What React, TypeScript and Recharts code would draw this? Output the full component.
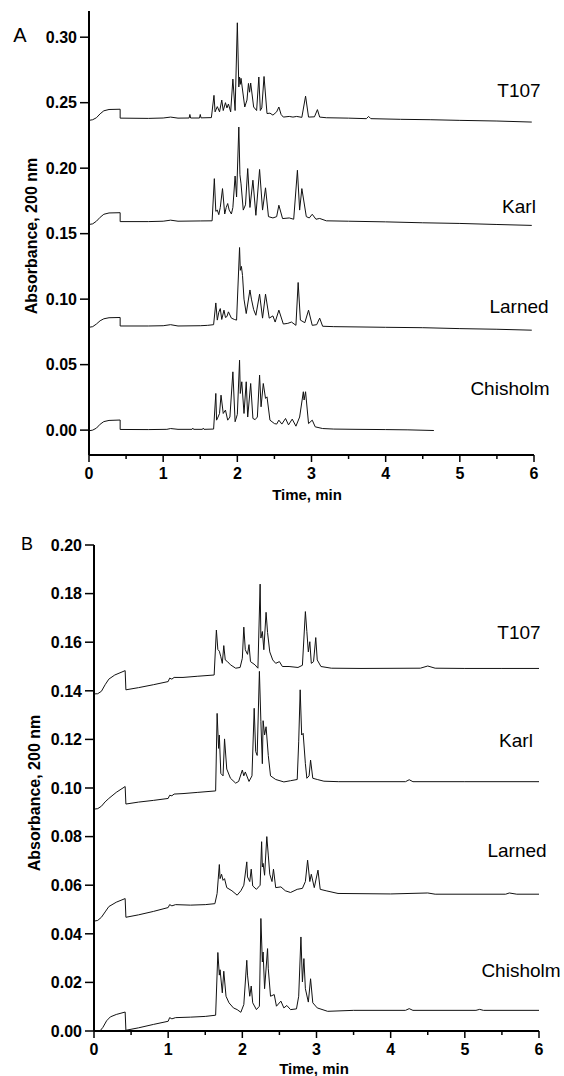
import React from 'react';
import { LineChart, Line, XAxis, YAxis } from 'recharts';

// Time (min) / absorbance pairs
const panelA_T107: [number, number][] = [
  [0, 0.2365], [0.05, 0.237], [0.1, 0.2385], [0.15, 0.2415], [0.2, 0.2438], [0.27, 0.2448], [0.42, 0.245], [0.42, 0.2382],
  [0.8, 0.238], [1.0, 0.2383], [1.1, 0.239], [1.2, 0.2382], [1.35, 0.2383], [1.36, 0.241], [1.37, 0.2383], [1.49, 0.2383],
  [1.5, 0.241], [1.51, 0.2384], [1.65, 0.2386], [1.685, 0.2556], [1.7, 0.243], [1.73, 0.247], [1.76, 0.243], [1.79, 0.252],
  [1.81, 0.244], [1.84, 0.25], [1.86, 0.246], [1.88, 0.249], [1.91, 0.243], [1.94, 0.268], [1.97, 0.244], [2.0, 0.311],
  [2.02, 0.262], [2.03, 0.2696], [2.04, 0.264], [2.05, 0.2686], [2.1, 0.2467], [2.13, 0.252], [2.15, 0.2647], [2.165, 0.258],
  [2.18, 0.265], [2.22, 0.2467], [2.26, 0.244], [2.29, 0.2696], [2.31, 0.244], [2.33, 0.246], [2.36, 0.27], [2.4, 0.2417],
  [2.44, 0.242], [2.48, 0.2405], [2.53, 0.243], [2.56, 0.2467], [2.59, 0.241], [2.62, 0.239], [2.7, 0.2395], [2.75, 0.239],
  [2.8, 0.2395], [2.87, 0.2388], [2.92, 0.255], [2.96, 0.239], [3.04, 0.2392], [3.08, 0.2447], [3.11, 0.239], [3.2, 0.2385],
  [3.5, 0.2382], [3.74, 0.2378], [3.77, 0.2395], [3.8, 0.2378], [4.2, 0.2373], [4.6, 0.237], [5.0, 0.2365], [5.5, 0.236], [5.97, 0.2352],
];
const panelA_Karl: [number, number][] = [
  [0, 0.157], [0.05, 0.1575], [0.1, 0.1595], [0.15, 0.1625], [0.2, 0.1648], [0.27, 0.1658], [0.42, 0.166], [0.42, 0.1592],
  [0.8, 0.1592], [1.0, 0.1595], [1.1, 0.1603], [1.2, 0.1595], [1.5, 0.1597], [1.66, 0.1598], [1.69, 0.192], [1.71, 0.167],
  [1.73, 0.168], [1.75, 0.1645], [1.77, 0.17], [1.8, 0.1844], [1.83, 0.165], [1.85, 0.17], [1.87, 0.173], [1.89, 0.168],
  [1.92, 0.165], [1.94, 0.17], [1.97, 0.194], [1.99, 0.178], [2.02, 0.2314], [2.035, 0.195], [2.05, 0.188], [2.08, 0.168],
  [2.11, 0.172], [2.14, 0.1997], [2.17, 0.17], [2.21, 0.1908], [2.25, 0.164], [2.3, 0.199], [2.34, 0.168], [2.38, 0.185],
  [2.42, 0.163], [2.48, 0.162], [2.53, 0.163], [2.56, 0.1717], [2.61, 0.1615], [2.7, 0.162], [2.76, 0.161], [2.81, 0.1984],
  [2.84, 0.168], [2.87, 0.1844], [2.93, 0.163], [2.97, 0.162], [3.01, 0.1648], [3.06, 0.161], [3.11, 0.1616], [3.2, 0.1598],
  [3.5, 0.1595], [4.0, 0.159], [4.5, 0.1583], [5.0, 0.1578], [5.5, 0.157], [5.97, 0.1563],
];
const panelA_Larned: [number, number][] = [
  [0, 0.0785], [0.05, 0.079], [0.1, 0.081], [0.15, 0.0835], [0.2, 0.085], [0.27, 0.0858], [0.42, 0.086], [0.42, 0.0795],
  [0.8, 0.0795], [1.0, 0.0797], [1.1, 0.0805], [1.2, 0.0795], [1.5, 0.0797], [1.6, 0.08], [1.68, 0.0805], [1.71, 0.0971],
  [1.73, 0.084], [1.75, 0.09], [1.77, 0.0928], [1.79, 0.0845], [1.82, 0.0916], [1.84, 0.086], [1.86, 0.0867], [1.88, 0.0903],
  [1.92, 0.0855], [1.96, 0.0845], [1.99, 0.084], [2.03, 0.1394], [2.04, 0.122], [2.055, 0.125], [2.07, 0.118], [2.09, 0.1],
  [2.12, 0.089], [2.17, 0.107], [2.19, 0.1], [2.22, 0.092], [2.25, 0.0877], [2.3, 0.1038], [2.34, 0.0855], [2.38, 0.1038],
  [2.43, 0.0855], [2.48, 0.0872], [2.51, 0.0825], [2.56, 0.0916], [2.62, 0.081], [2.68, 0.0815], [2.73, 0.0825], [2.79, 0.08],
  [2.82, 0.1127], [2.85, 0.084], [2.91, 0.082], [2.96, 0.0916], [3.01, 0.08], [3.07, 0.0805], [3.11, 0.0855], [3.15, 0.0793],
  [3.3, 0.079], [3.6, 0.0788], [4.0, 0.0785], [4.5, 0.0782], [5.0, 0.0775], [5.5, 0.077], [5.97, 0.0763],
];
const panelA_Chisholm: [number, number][] = [
  [0, -0.0005], [0.05, 0], [0.1, 0.0015], [0.15, 0.0045], [0.2, 0.0065], [0.27, 0.0074], [0.42, 0.0077], [0.42, 0.0005],
  [0.8, 0.0004], [1.05, 0.0006], [1.1, 0.0012], [1.2, 0.0006], [1.39, 0.0006], [1.4, 0.0015], [1.41, 0.0006], [1.53, 0.0006],
  [1.54, 0.0015], [1.55, 0.0006], [1.68, 0.0008], [1.71, 0.028], [1.72, 0.0076], [1.74, 0.01], [1.76, 0.0127], [1.78, 0.0267],
  [1.81, 0.0127], [1.84, 0.0153], [1.87, 0.0076], [1.9, 0.01], [1.94, 0.0445], [1.97, 0.0064], [2.0, 0.012], [2.03, 0.0534],
  [2.04, 0.028], [2.06, 0.0369], [2.09, 0.0127], [2.12, 0.0369], [2.14, 0.01], [2.18, 0.0356], [2.21, 0.0089], [2.24, 0.008],
  [2.27, 0.01], [2.3, 0.042], [2.32, 0.0178], [2.35, 0.0356], [2.38, 0.0242], [2.4, 0.0254], [2.44, 0.0076], [2.5, 0.005],
  [2.53, 0.0046], [2.56, 0.0076], [2.6, 0.0046], [2.65, 0.0089], [2.69, 0.004], [2.74, 0.0084], [2.79, 0.003], [2.84, 0.01],
  [2.89, 0.0293], [2.9, 0.023], [2.92, 0.0293], [2.96, 0.005], [3.01, 0.0076], [3.05, 0.0025], [3.15, 0.0012], [3.3, 0.0008],
  [3.6, 0.0006], [4.0, 0.0004], [4.3, 0.0002], [4.65, -0.0003],
];

const panelB_T107: [number, number][] = [
  [0, 0.1387], [0.05, 0.1388], [0.1, 0.1398], [0.15, 0.1425], [0.2, 0.1448], [0.28, 0.1465], [0.42, 0.1483], [0.43, 0.1404],
  [0.6, 0.1413], [0.8, 0.1425], [1.0, 0.1438], [1.02, 0.1452], [1.05, 0.1448], [1.08, 0.1455], [1.2, 0.1455], [1.4, 0.146],
  [1.62, 0.1465], [1.65, 0.165], [1.67, 0.157], [1.69, 0.1563], [1.71, 0.154], [1.73, 0.1513], [1.75, 0.1586], [1.77, 0.1527],
  [1.8, 0.152], [1.84, 0.1507], [1.91, 0.1493], [1.97, 0.1496], [2.0, 0.1534], [2.02, 0.1662], [2.04, 0.1569], [2.07, 0.155],
  [2.09, 0.159], [2.11, 0.152], [2.17, 0.1507], [2.21, 0.1493], [2.24, 0.1839], [2.25, 0.1617], [2.27, 0.1644], [2.29, 0.1569],
  [2.32, 0.1723], [2.34, 0.164], [2.37, 0.156], [2.41, 0.1527], [2.45, 0.1513], [2.5, 0.152], [2.54, 0.15], [2.63, 0.15],
  [2.75, 0.1496], [2.81, 0.1505], [2.85, 0.1726], [2.87, 0.1644], [2.89, 0.156], [2.91, 0.1602], [2.93, 0.1513], [2.96, 0.152],
  [2.99, 0.1619], [3.01, 0.1527], [3.06, 0.15], [3.2, 0.1493], [3.6, 0.1492], [4.4, 0.1493], [4.5, 0.1502], [4.6, 0.1493],
  [5.0, 0.1492], [5.5, 0.1492], [6.0, 0.1492],
];
const panelB_Karl: [number, number][] = [
  [0, 0.0913], [0.05, 0.0915], [0.1, 0.0925], [0.15, 0.0943], [0.2, 0.0957], [0.3, 0.0982], [0.42, 0.1006], [0.43, 0.0934],
  [0.6, 0.0942], [0.8, 0.0949], [1.0, 0.0957], [1.02, 0.097], [1.05, 0.0968], [1.08, 0.0975], [1.2, 0.0977], [1.4, 0.0982],
  [1.64, 0.0988], [1.66, 0.1307], [1.68, 0.1163], [1.69, 0.1218], [1.71, 0.106], [1.74, 0.105], [1.76, 0.1202], [1.79, 0.1078],
  [1.84, 0.104], [1.91, 0.102], [1.95, 0.1027], [2.0, 0.1074], [2.02, 0.105], [2.04, 0.1066], [2.09, 0.1027], [2.13, 0.105],
  [2.16, 0.1328], [2.18, 0.115], [2.2, 0.1134], [2.23, 0.148], [2.25, 0.1273], [2.27, 0.11], [2.28, 0.1277], [2.3, 0.1218],
  [2.32, 0.1252], [2.35, 0.1134], [2.38, 0.105], [2.45, 0.1035], [2.56, 0.1025], [2.65, 0.103], [2.74, 0.1035], [2.76, 0.119],
  [2.78, 0.1404], [2.8, 0.1218], [2.82, 0.1225], [2.85, 0.11], [2.87, 0.104], [2.9, 0.105], [2.92, 0.1115], [2.95, 0.104],
  [3.01, 0.1035], [3.1, 0.1028], [3.3, 0.1026], [4.2, 0.1026], [4.25, 0.1034], [4.3, 0.1026], [5.0, 0.1026], [6.0, 0.1026],
];
const panelB_Larned: [number, number][] = [
  [0, 0.0452], [0.05, 0.0455], [0.1, 0.0468], [0.15, 0.049], [0.2, 0.0512], [0.3, 0.053], [0.42, 0.0545], [0.43, 0.0468],
  [0.6, 0.0478], [0.8, 0.0492], [1.0, 0.0508], [1.02, 0.052], [1.05, 0.0515], [1.1, 0.052], [1.3, 0.0518], [1.5, 0.052],
  [1.63, 0.0524], [1.66, 0.0566], [1.69, 0.0685], [1.7, 0.0627], [1.72, 0.0645], [1.74, 0.062], [1.76, 0.0627], [1.79, 0.059],
  [1.86, 0.0577], [1.93, 0.0559], [1.98, 0.0577], [2.02, 0.06], [2.06, 0.0696], [2.07, 0.0634], [2.1, 0.0615], [2.12, 0.0666],
  [2.14, 0.0597], [2.19, 0.0583], [2.24, 0.06], [2.26, 0.0779], [2.27, 0.0675], [2.28, 0.069], [2.3, 0.0641], [2.33, 0.08],
  [2.35, 0.0724], [2.37, 0.0645], [2.4, 0.0615], [2.42, 0.0666], [2.45, 0.059], [2.52, 0.0593], [2.58, 0.0577], [2.65, 0.057],
  [2.74, 0.0583], [2.81, 0.0587], [2.85, 0.0615], [2.88, 0.0703], [2.91, 0.0615], [2.93, 0.0645], [2.97, 0.059], [3.02, 0.0662],
  [3.05, 0.0583], [3.13, 0.0577], [3.29, 0.0566], [4.0, 0.0564], [4.5, 0.0568], [4.6, 0.0563], [5.55, 0.0563], [5.6, 0.0568],
  [5.7, 0.0563], [6.0, 0.0563],
];
const panelB_Chisholm: [number, number][] = [
  [0, 0], [0.08, 0], [0.12, 0.0015], [0.17, 0.0042], [0.22, 0.0058], [0.3, 0.0068], [0.42, 0.0078], [0.43, 0.0003],
  [0.6, 0.0013], [0.8, 0.0027], [1.0, 0.004], [1.02, 0.0055], [1.05, 0.005], [1.1, 0.0055], [1.3, 0.0057], [1.5, 0.006],
  [1.64, 0.0065], [1.67, 0.0323], [1.69, 0.023], [1.7, 0.0252], [1.73, 0.0157], [1.75, 0.0246], [1.78, 0.0143], [1.82, 0.0116],
  [1.88, 0.0095], [1.93, 0.0088], [1.98, 0.0077], [2.02, 0.0109], [2.06, 0.0291], [2.07, 0.023], [2.1, 0.0143], [2.12, 0.0185],
  [2.14, 0.0116], [2.19, 0.0088], [2.23, 0.0102], [2.25, 0.0463], [2.27, 0.0284], [2.28, 0.0325], [2.3, 0.0174], [2.34, 0.0339],
  [2.35, 0.0256], [2.38, 0.0143], [2.43, 0.015], [2.46, 0.0102], [2.52, 0.0123], [2.56, 0.0095], [2.6, 0.0105], [2.65, 0.0088],
  [2.73, 0.0091], [2.76, 0.0143], [2.79, 0.0387], [2.81, 0.0202], [2.83, 0.0298], [2.85, 0.0174], [2.89, 0.0119], [2.92, 0.0215],
  [2.95, 0.0116], [3.01, 0.0095], [3.15, 0.0081], [3.5, 0.0085], [4.2, 0.0085], [4.25, 0.0092], [4.3, 0.0085], [5.15, 0.0085],
  [5.2, 0.0089], [5.25, 0.0085], [6.0, 0.0085],
];

const timeTicks = [0, 0.5, 1, 1.5, 2, 2.5, 3, 3.5, 4, 4.5, 5, 5.5, 6];
const panelATicks = [0, 0.05, 0.1, 0.15, 0.2, 0.25, 0.3];
const panelBTicks = [0, 0.02, 0.04, 0.06, 0.08, 0.1, 0.12, 0.14, 0.16, 0.18, 0.2];

const FONT = '"Liberation Sans", Arial, Helvetica, sans-serif';
const INK = '#111';

const toRows = (pairs: [number, number][]) => pairs.map(([t, a]) => ({ t, a }));

function TimeTick(props: any) {
  const { x, y, payload } = props;
  const v = payload.value as number;
  const major = Math.abs(v - Math.round(v)) < 1e-6;
  return (
    <g>
      <line x1={x} x2={x} y1={y} y2={y + (major ? 7 : 4)} stroke="#000" strokeWidth={1.5} />
      {major && (
        <text x={x} y={y + 24} textAnchor="middle" fontSize={16} fontWeight="bold" fontFamily={FONT} fill="#000">
          {v}
        </text>
      )}
    </g>
  );
}

function AbsTick(props: any) {
  const { x, y, payload } = props;
  return (
    <g>
      <line x1={x - 9} x2={x} y1={y} y2={y} stroke="#000" strokeWidth={1.5} />
      <text x={x - 12} y={y} dy="0.36em" textAnchor="end" fontSize={16} fontWeight="bold" fontFamily={FONT} fill="#000">
        {(payload.value as number).toFixed(2)}
      </text>
    </g>
  );
}

type Trace = { name: string; pairs: [number, number][] };

function Panel({ traces, domain, ticks, width, height, margin }: {
  traces: Trace[];
  domain: [number, number];
  ticks: number[];
  width: number;
  height: number;
  margin: { top: number; right: number; bottom: number; left: number };
}) {
  return (
    <LineChart width={width} height={height} margin={margin}>
      <XAxis
        type="number"
        dataKey="t"
        domain={[0, 6]}
        ticks={timeTicks}
        interval={0}
        height={30}
        tickSize={0}
        tickMargin={0}
        tickLine={false}
        tick={<TimeTick />}
        axisLine={{ stroke: '#000', strokeWidth: 2 }}
      />
      <YAxis
        type="number"
        domain={domain}
        ticks={ticks}
        interval={0}
        width={50}
        tickSize={0}
        tickMargin={0}
        tickLine={false}
        tick={<AbsTick />}
        axisLine={{ stroke: '#000', strokeWidth: 2 }}
        allowDataOverflow
      />
      {traces.map((tr) => (
        <Line
          key={tr.name}
          data={toRows(tr.pairs)}
          dataKey="a"
          name={tr.name}
          type="linear"
          stroke={INK}
          strokeWidth={1}
          dot={false}
          activeDot={false}
          isAnimationActive={false}
        />
      ))}
    </LineChart>
  );
}

function Tag({ x, y, size, bold, children }: { x: number; y: number; size: number; bold?: boolean; children: React.ReactNode }) {
  return (
    <div
      style={{
        position: 'absolute',
        left: x,
        top: y,
        transform: 'translate(-50%, -50%)',
        fontFamily: FONT,
        fontSize: size,
        fontWeight: bold ? 'bold' : 'normal',
        lineHeight: 1,
        whiteSpace: 'nowrap',
        color: '#000',
      }}
    >
      {children}
    </div>
  );
}

function VTag({ x, y, children }: { x: number; y: number; children: React.ReactNode }) {
  return (
    <div
      style={{
        position: 'absolute',
        left: x,
        top: y,
        transform: 'translate(-50%, -50%) rotate(-90deg)',
        fontFamily: FONT,
        fontSize: 16,
        fontWeight: 'bold',
        lineHeight: 1,
        whiteSpace: 'nowrap',
        color: '#000',
      }}
    >
      {children}
    </div>
  );
}

export default function App() {
  return (
    <div style={{ position: 'absolute', left: 0, top: 0, width: 564, height: 1076, background: '#fff', overflow: 'hidden' }}>
      <div style={{ position: 'absolute', left: 0, top: 0 }}>
        <Panel
          traces={[
            { name: 'T107', pairs: panelA_T107 },
            { name: 'Karl', pairs: panelA_Karl },
            { name: 'Larned', pairs: panelA_Larned },
            { name: 'Chisholm', pairs: panelA_Chisholm },
          ]}
          domain={[-0.019, 0.32]}
          ticks={panelATicks}
          width={564}
          height={500}
          margin={{ top: 11, right: 30, bottom: 15, left: 39 }}
        />
      </div>
      <div style={{ position: 'absolute', left: 0, top: 520 }}>
        <Panel
          traces={[
            { name: 'T107', pairs: panelB_T107 },
            { name: 'Karl', pairs: panelB_Karl },
            { name: 'Larned', pairs: panelB_Larned },
            { name: 'Chisholm', pairs: panelB_Chisholm },
          ]}
          domain={[0, 0.2]}
          ticks={panelBTicks}
          width={564}
          height={556}
          margin={{ top: 25, right: 25, bottom: 15, left: 44 }}
        />
      </div>

      <Tag x={20} y={35} size={20}>A</Tag>
      <Tag x={27} y={544} size={18}>B</Tag>

      <Tag x={519} y={90} size={19}>T107</Tag>
      <Tag x={519} y={206} size={19}>Karl</Tag>
      <Tag x={519} y={306} size={19}>Larned</Tag>
      <Tag x={510} y={388} size={19}>Chisholm</Tag>

      <Tag x={519} y={632} size={19}>T107</Tag>
      <Tag x={516} y={740} size={19}>Karl</Tag>
      <Tag x={517} y={850} size={19}>Larned</Tag>
      <Tag x={521} y={970} size={19}>Chisholm</Tag>

      <VTag x={32} y={236}>Absorbance, 200 nm</VTag>
      <VTag x={35} y={793}>Absorbance, 200 nm</VTag>

      <Tag x={307} y={494} size={15} bold>Time, min</Tag>
      <Tag x={314} y={1068} size={15} bold>Time, min</Tag>
    </div>
  );
}
